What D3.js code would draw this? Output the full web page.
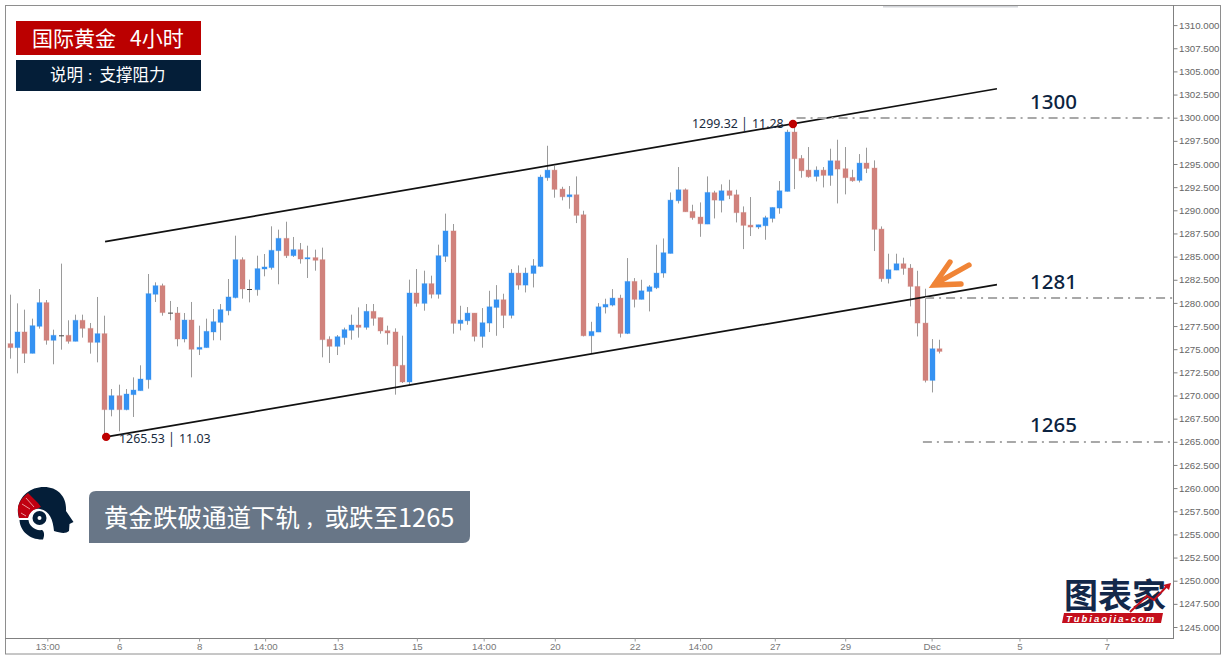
<!DOCTYPE html>
<html><head><meta charset="utf-8">
<script src="https://cdnjs.cloudflare.com/ajax/libs/d3/7.8.5/d3.min.js"></script>
<style>html,body{margin:0;padding:0;background:#fff;overflow:hidden}svg{display:block}</style>
</head><body><div id="chart"></div>
<script>
const openP=[1275.6,1275.17,1276.86,1274.55,1277.47,1280.03,1275.96,1276.5,1276.5,1275.85,1278.12,1277.25,1275.74,1276.68,1268.47,1269.98,1268.47,1270.09,1270.52,1271.71,1280.93,1281.86,1278.95,1278.91,1276.1,1278.15,1274.99,1275.17,1276.86,1277.9,1279.16,1280.57,
1284.67,1281.5,1281.43,1283.66,1283.81,1285.64,1286.97,1285.1,1285.75,1284.74,1284.89,1284.67,1276.07,1275.31,1276.25,1277.04,1277.61,1277.36,1279.09,1278.41,1277.0,1276.86,1273.26,1271.46,1281.07,1279.95,1282.08,1280.93,1285.03,1287.77,
1277.78,1278.07,1278.9,1276.38,1277.82,1279.51,1280.34,1278.65,1283.22,1281.92,1283.18,1283.94,1293.52,1294.34,1292.29,1291.46,1291.68,1289.52,1276.45,1276.85,1279.55,1279.76,1280.52,1276.7,1282.32,1280.38,1281.24,1281.64,1283.22,1285.34,1291.03,1292.22,
1289.88,1289.27,1288.51,1291.9,1291.07,1292.11,1291.68,1289.77,1288.4,1288.19,1288.33,1289.12,1290.24,1292.04,1298.45,1295.6,1294.34,1293.66,1294.34,1293.77,1295.35,1294.49,1293.55,1293.23,1295.1,1294.56,1287.97,1282.61,1283.54,1284.23,1283.76,1281.78,1277.82,1271.63,1275.05];
const closeP=[1275.17,1276.86,1274.55,1277.54,1280.03,1275.96,1276.5,1276.5,1275.85,1278.12,1277.25,1275.74,1276.68,1268.47,1269.98,1268.47,1270.16,1270.59,1271.78,1281.0,1281.86,1278.95,1278.95,1276.1,1278.15,1274.99,1275.2,1276.93,1277.97,1279.27,1280.64,1284.67,
1281.5,1281.5,1283.7,1283.88,1285.68,1286.97,1285.1,1285.75,1284.74,1284.89,1284.6,1276.03,1275.31,1276.35,1277.11,1277.61,1277.36,1279.09,1278.33,1276.97,1276.75,1273.19,1271.46,1281.07,1279.95,1282.08,1280.93,1285.1,1287.77,1277.79,
1278.14,1278.9,1276.38,1277.86,1279.58,1280.34,1278.65,1283.22,1281.92,1283.22,1284.01,1293.59,1294.34,1292.26,1291.46,1291.68,1289.45,1276.45,1276.92,1279.58,1279.84,1280.52,1276.7,1282.32,1280.38,1281.31,1281.74,1283.22,1285.42,1291.1,1292.22,1289.84,
1289.2,1288.55,1291.93,1291.1,1292.11,1291.61,1289.74,1288.37,1288.19,1288.44,1289.2,1290.31,1292.11,1298.45,1295.57,1294.27,1293.62,1294.34,1293.77,1295.35,1294.45,1293.52,1293.19,1295.1,1294.52,1287.94,1282.61,1283.58,1284.23,1283.72,1281.78,1277.82,1271.63,1275.05,1274.76];
const highP=[1280.89,1279.95,1279.27,1278.3,1281.5,1280.31,1277.11,1284.24,1278.12,1278.73,1278.73,1277.83,1280.64,1278.62,1270.7,1271.17,1270.7,1271.96,1273.26,1283.12,1282.22,1282.08,1280.21,1279.56,1278.91,1280.1,1277.54,1278.3,1279.34,1279.88,1282.58,1287.26,
1284.92,1282.51,1285.1,1285.28,1288.27,1287.91,1288.77,1287.12,1286.47,1286.18,1285.75,1285.97,1276.39,1276.53,1277.33,1278.73,1279.52,1279.88,1279.88,1278.41,1277.54,1277.25,1276.46,1282.51,1283.66,1283.48,1282.94,1286.29,1289.64,1288.52,
1279.69,1279.55,1278.9,1279.44,1281.31,1281.92,1280.99,1283.65,1284.05,1283.8,1284.73,1293.84,1296.97,1294.81,1292.54,1292.62,1293.66,1289.95,1277.96,1279.98,1280.45,1281.49,1280.88,1284.84,1282.68,1282.5,1281.92,1286.28,1286.96,1291.93,1294.67,1292.36,
1290.6,1290.85,1293.66,1292.11,1292.8,1293.3,1292.22,1290.42,1291.43,1288.44,1289.41,1290.31,1293.16,1298.7,1299.32,1295.96,1296.83,1294.74,1294.67,1296.65,1297.62,1296.83,1294.38,1296.07,1296.76,1295.39,1288.26,1285.31,1285.31,1284.88,1284.19,1283.47,1281.53,1276.09,1276.02];
const lowP=[1273.98,1272.39,1273.51,1274.55,1277.22,1275.49,1273.37,1274.95,1275.6,1275.85,1276.25,1274.52,1273.58,1265.53,1267.75,1266.13,1268.4,1267.68,1270.52,1270.74,1280.1,1278.62,1278.12,1275.31,1275.74,1271.96,1274.37,1275.17,1275.96,1275.96,1278.66,1280.49,
1280.46,1280.06,1280.78,1282.87,1283.59,1282.01,1284.85,1284.96,1284.24,1282.69,1283.48,1274.12,1273.51,1274.37,1275.49,1276.03,1276.25,1277.11,1277.54,1276.68,1275.49,1270.09,1271.35,1271.17,1279.59,1279.16,1280.49,1280.46,1284.42,1276.68,
1277.03,1277.64,1275.84,1275.16,1276.85,1276.45,1277.28,1278.32,1281.42,1281.13,1281.67,1283.87,1293.19,1291.36,1291.07,1290.17,1288.62,1276.38,1274.58,1276.85,1278.86,1279.62,1276.27,1276.63,1279.51,1280.38,1279.08,1281.49,1282.72,1285.34,1290.74,1289.84,
1288.98,1287.14,1288.51,1289.12,1289.77,1291.21,1288.69,1285.81,1287.22,1287.97,1286.82,1288.69,1289.63,1292.04,1292.29,1293.52,1293.52,1293.12,1292.47,1292.65,1290.74,1291.72,1293.08,1293.01,1294.02,1285.6,1282.28,1282.1,1283.54,1283.04,1279.62,1276.38,1271.41,1270.33,1274.54];
const yTicks=[1245,1247.5,1250,1252.5,1255,1257.5,1260,1262.5,1265,1267.5,1270,1272.5,1275,1277.5,1280,1282.5,1285,1287.5,1290,1292.5,1295,1297.5,1300,1302.5,1305,1307.5,1310];
const xTickIdx=[5.1,15,26,35.1,45.1,56,65.2,75,86,95,105.3,115,126.9,139,151];
const xTickLabels=["13:00","6","8","14:00","13","15","14:00","20","22","14:00","27","29","Dec","5","7"];
const upperIdx=[13.05,135.9], upperPrice=[1286.61,1303.13];
const lowerIdx=[13.2,135.9], lowerPrice=[1265.53,1281.97];
const levelValues=[1300,1280.5,1265], levelStartIdx=[108.3,126,125.7], levelLabels=["1300","1281","1265"], levelLabelPrice=[1300.9,1281.5,1266.1];
const pivotIdx=[13.2,107.8], pivotPrice=[1265.53,1299.32], pivotText=["1265.53 │ 11.03","1299.32 │ 11.28"];

const W=1224,H=658;
const svg=d3.select("#chart").append("svg").attr("width",W).attr("height",H);
const cjk='"Noto Sans CJK SC","Noto Sans",sans-serif';
const x=d3.scaleLinear().domain([0,128]).range([10.3,939.6]);
const y=d3.scaleLinear().domain([1245,1310]).range([627,25.1]);

// frame
svg.append("rect").attr("x",5.5).attr("y",5.5).attr("width",1215).attr("height",648.5).attr("fill","#fff").attr("stroke","#8e8e8e");
svg.append("rect").attr("x",883).attr("y",6).attr("width",135).attr("height",1.5).attr("fill","#d4d6da");
svg.append("line").attr("x1",1173.5).attr("x2",1173.5).attr("y1",5).attr("y2",638.5).attr("stroke","#808080");
svg.append("line").attr("x1",5).attr("x2",1174).attr("y1",638.5).attr("y2",638.5).attr("stroke","#808080");

// axes
const ya=svg.append("g").attr("transform","translate(1173.5,0)")
  .call(d3.axisRight(y).tickValues(yTicks).tickFormat(d3.format(".3f")).tickSize(4).tickSizeOuter(0));
ya.select(".domain").remove();
ya.selectAll("line").attr("stroke","#808080");
ya.selectAll("text").attr("x",5.5).attr("fill","#666").style("font","9.7px 'Liberation Sans',Arial,sans-serif");
const xa=svg.append("g").attr("transform","translate(0,638.5)")
  .call(d3.axisBottom(x).tickValues(xTickIdx).tickFormat((d,i)=>xTickLabels[i]).tickSize(3).tickSizeOuter(0));
xa.select(".domain").remove();
xa.selectAll("line").attr("stroke","#999");
xa.selectAll("text").attr("y",5).attr("fill","#777").style("font","9.7px 'Liberation Sans',Arial,sans-serif");

// candles
const idx=d3.range(openP.length);
const BLUE="#3592f2", RED="#d0827c";
const colorOf=i=>closeP[i]>openP[i]?BLUE:closeP[i]<openP[i]?RED:"#444";
const cx=i=>Math.round(x(i)-0.5)+.5;
svg.append("g").selectAll("line").data(idx).join("line")
  .attr("x1",cx).attr("x2",cx)
  .attr("y1",i=>y(highP[i])).attr("y2",i=>y(lowP[i]))
  .attr("stroke","#9a9a9a").attr("stroke-width",1);
svg.append("g").selectAll("rect").data(idx).join("rect")
  .attr("x",i=>cx(i)-2.5).attr("width",5)
  .attr("y",i=>y(Math.max(openP[i],closeP[i])))
  .attr("height",i=>Math.max(1,Math.abs(y(openP[i])-y(closeP[i]))))
  .attr("fill",i=>colorOf(i))
  .attr("stroke",i=>closeP[i]===openP[i]?"none":colorOf(i)).attr("stroke-opacity",.35).attr("stroke-width",1);

// channel
const chan=d3.line().x(d=>x(d[0])).y(d=>y(d[1]));
svg.append("path").attr("d",chan(d3.zip(upperIdx,upperPrice))).attr("fill","none").attr("stroke","#111").attr("stroke-width",1.7);
svg.append("path").attr("d",chan(d3.zip(lowerIdx,lowerPrice))).attr("fill","none").attr("stroke","#111").attr("stroke-width",1.7);

// levels
levelValues.forEach((v,i)=>{
  const ly=Math.round(y(v));
  svg.append("line").attr("x1",x(levelStartIdx[i])).attr("x2",1173).attr("y1",ly).attr("y2",ly)
    .attr("stroke","#a8a8a8").attr("stroke-width",2).attr("stroke-dasharray","9 5 2 5");
  svg.append("text").attr("x",1030).attr("y",y(levelLabelPrice[i])).text(levelLabels[i])
    .attr("fill","#0c2340").style("font","500 20.5px 'Noto Sans',sans-serif");
});

// pivots
pivotPrice.forEach((p,i)=>{
  svg.append("circle").attr("cx",x(pivotIdx[i])).attr("cy",y(p)).attr("r",4.2).attr("fill","#bd0000");
});
svg.append("text").attr("x",119).attr("y",442.5).text(pivotText[0]).attr("fill","#1a2b40").style("font","12.4px 'Noto Sans',sans-serif");
svg.append("text").attr("x",692).attr("y",127.5).text(pivotText[1]).attr("fill","#1a2b40").style("font","12.4px 'Noto Sans',sans-serif");

// arrow
const arrow=svg.append("g").attr("fill","none").attr("stroke","#f08436").attr("stroke-width",5.4).attr("stroke-linecap","round").attr("stroke-linejoin","miter");
arrow.append("path").attr("d","M969 265 L935 284");
arrow.append("path").attr("d","M950 262 L934 285 L961 284");

// title boxes
svg.append("rect").attr("x",16).attr("y",21).attr("width",185).attr("height",34).attr("fill","#bb0000");
svg.append("text").attr("x",32).attr("y",45.5).text("国际黄金").attr("fill","#fff").style("font",`21px ${cjk}`);
svg.append("text").attr("x",130).attr("y",45.5).text("4小时").attr("fill","#fff").style("font",`21px ${cjk}`);
svg.append("rect").attr("x",16).attr("y",60).attr("width",185).attr("height",31).attr("fill","#041e38");
const sub=svg.append("text").attr("x",50).attr("y",81).attr("fill","#fff").style("font",`16.5px ${cjk}`);
sub.append("tspan").text("说明");
sub.append("tspan").attr("dx",4).style("font-size","12.5px").text("：");
sub.append("tspan").text("支撑阻力");

// callout
svg.append("path").attr("d","M89 543 L89 498 Q89 491 96 491 L470 491 L470 536 Q470 543 463 543 Z").attr("fill","#687687");
const call=svg.append("text").attr("x",104).attr("y",527).attr("fill","#fff").style("font",`24.5px ${cjk}`);
call.append("tspan").text("黄金跌破通道下轨");
call.append("tspan").attr("dx",5).style("font-size","19.5px").text("，");
call.append("tspan").text("或跌至");
call.append("tspan").style("font-size","25.4px").text("1265");

// head icon
const NAVY="#041e38", HRED="#c00010";
svg.append("path").attr("d","M18 508 C20 496 30 487 44 487 C58 487 67 497 66 511 L73.5 522 L69.5 524 L69 531 C66 534 60 533 54 531 C53 520 50 511 40 509 C33 508 29 512 28 518 L19 518 C18 514 17.5 511 18 508 Z").attr("fill",NAVY);
svg.append("path").attr("d","M19.5 520 C20 531 30 540 43 539.5 C45 535 44 531 42 530 C35 531 29 526 28.5 520 Z").attr("fill",NAVY);
svg.append("path").attr("d","M18 512 L18 507 C20 500 24 496 28 493 L38 503 L41 507 L36 509 C32 510 29 514 28 518 L19 518 Z").attr("fill",HRED);
svg.append("path").attr("d","M22 504 L30 509 M26 498 L34 507 M21 513 L26 516").attr("stroke","#f5c0c0").attr("stroke-width",.8).attr("fill","none");
svg.append("circle").attr("cx",39.5).attr("cy",518).attr("r",7).attr("fill",NAVY);
svg.append("circle").attr("cx",39.5).attr("cy",518).attr("r",2).attr("fill","#fff");

// logo
svg.append("text").attr("x",1064).attr("y",608).text("图表家").attr("fill","#13284a").style("font",`700 34px ${cjk}`);
svg.append("path").attr("d","M1064 613 L1163 613 L1161 623 L1062 623 Z").attr("fill","#c40f1c");
svg.append("text").attr("x",1066).attr("y",621.6).text("Tubiaojia-com").attr("fill","#fff").style("font","italic 700 9.5px 'Liberation Sans',sans-serif").attr("letter-spacing",2);
svg.append("path").attr("d","M1130 612 L1147 596 L1154 600 L1168 585").attr("fill","none").attr("stroke","#c40f1c").attr("stroke-width",2);
svg.append("path").attr("d","M1171 583 L1163 585 L1169 590 Z").attr("fill","#c40f1c");
</script></body></html>
